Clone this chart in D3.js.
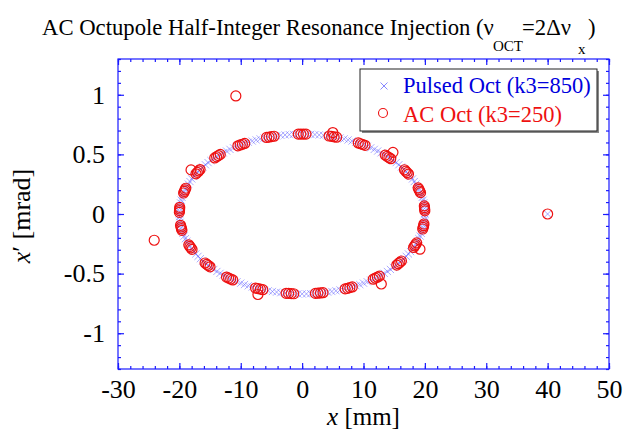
<!DOCTYPE html>
<html>
<head>
<meta charset="utf-8">
<script src="https://cdn.jsdelivr.net/npm/d3@7"></script>
<style>
  body { margin: 0; background: #fff; }
  text { font-family: "Liberation Serif", "Times New Roman", serif; }
</style>
</head>
<body>
<script>
// tick labels
var xTicks = [-30, -20, -10, 0, 10, 20, 30, 40, 50];
var yTicks = [-1, -0.5, 0, 0.5, 1];

// pulsed octupole (k3=850), blue crosses
var pulsedX = [
  20.00,19.99,19.95,19.89,19.81,19.70,19.56,19.41,19.23,19.02,18.79,18.54,18.27,17.98,17.66,17.32,16.96,16.58,16.18,15.76,15.32,14.86,14.39,13.89,13.38,12.86,12.31,11.76,11.18,10.60,10.00,9.39,8.77,8.13,7.49,6.84,6.18,5.51,4.84,4.16,3.47,2.78,2.09,1.40,0.70,
  0,-0.70,-1.40,-2.09,-2.78,-3.47,-4.16,-4.84,-5.51,-6.18,-6.84,-7.49,-8.13,-8.77,-9.39,-10.00,-10.60,-11.18,-11.76,-12.31,-12.86,-13.38,-13.89,-14.39,-14.86,-15.32,-15.76,-16.18,-16.58,-16.96,-17.32,-17.66,-17.98,-18.27,-18.54,-18.79,-19.02,-19.23,-19.41,-19.56,-19.70,-19.81,-19.89,-19.95,-19.99,
  -20.00,-19.99,-19.95,-19.89,-19.81,-19.70,-19.56,-19.41,-19.23,-19.02,-18.79,-18.54,-18.27,-17.98,-17.66,-17.32,-16.96,-16.58,-16.18,-15.76,-15.32,-14.86,-14.39,-13.89,-13.38,-12.86,-12.31,-11.76,-11.18,-10.60,-10.00,-9.39,-8.77,-8.13,-7.49,-6.84,-6.18,-5.51,-4.84,-4.16,-3.47,-2.78,-2.09,-1.40,-0.70,
  0,0.70,1.40,2.09,2.78,3.47,4.16,4.84,5.51,6.18,6.84,7.49,8.13,8.77,9.39,10.00,10.60,11.18,11.76,12.31,12.86,13.38,13.89,14.39,14.86,15.32,15.76,16.18,16.58,16.96,17.32,17.66,17.98,18.27,18.54,18.79,19.02,19.23,19.41,19.56,19.70,19.81,19.89,19.95,19.99,
  40.00
];
var pulsedY = [
  0,0.023,0.047,0.070,0.093,0.116,0.139,0.162,0.185,0.207,0.229,0.251,0.272,0.294,0.315,0.335,0.355,0.375,0.394,0.413,0.431,0.448,0.465,0.482,0.498,0.513,0.528,0.542,0.555,0.568,0.580,0.592,0.602,0.612,0.621,0.630,0.637,0.644,0.650,0.655,0.660,0.663,0.666,0.668,0.670,
  0.670,0.670,0.668,0.666,0.663,0.660,0.655,0.650,0.644,0.637,0.630,0.621,0.612,0.602,0.592,0.580,0.568,0.555,0.542,0.528,0.513,0.498,0.482,0.465,0.448,0.431,0.413,0.394,0.375,0.355,0.335,0.315,0.294,0.272,0.251,0.229,0.207,0.185,0.162,0.139,0.116,0.093,0.070,0.047,0.023,
  0,-0.023,-0.047,-0.070,-0.093,-0.116,-0.139,-0.162,-0.185,-0.207,-0.229,-0.251,-0.272,-0.294,-0.315,-0.335,-0.355,-0.375,-0.394,-0.413,-0.431,-0.448,-0.465,-0.482,-0.498,-0.513,-0.528,-0.542,-0.555,-0.568,-0.580,-0.592,-0.602,-0.612,-0.621,-0.630,-0.637,-0.644,-0.650,-0.655,-0.660,-0.663,-0.666,-0.668,-0.670,
  -0.670,-0.670,-0.668,-0.666,-0.663,-0.660,-0.655,-0.650,-0.644,-0.637,-0.630,-0.621,-0.612,-0.602,-0.592,-0.580,-0.568,-0.555,-0.542,-0.528,-0.513,-0.498,-0.482,-0.465,-0.448,-0.431,-0.413,-0.394,-0.375,-0.355,-0.335,-0.315,-0.294,-0.272,-0.251,-0.229,-0.207,-0.185,-0.162,-0.139,-0.116,-0.093,-0.070,-0.047,-0.023,
  0.000
];

// AC octupole (k3=250), red circles
var acX = [
  -0.63,-0.21,0.21,0.63,
  5.62,5.21,4.81,4.40,
  10.25,9.88,9.52,9.15,
  14.44,14.14,13.84,13.54,
  17.33,17.11,16.89,16.67,
  19.29,19.16,19.04,18.91,
  19.99,19.97,19.94,19.91,
  19.65,19.72,19.79,19.85,
  18.16,18.33,18.49,18.66,
  15.42,15.67,15.93,16.18,
  11.59,11.92,12.26,12.59,
  7.01,7.40,7.78,8.17,
  2.16,2.57,2.99,3.40,
  -2.61,-2.20,-1.78,-1.37,
  -7.59,-7.20,-6.80,-6.41,
  -12.32,-11.98,-11.64,-11.30,
  -15.81,-15.54,-15.28,-15.01,
  -18.46,-18.29,-18.11,-17.94,
  -19.81,-19.74,-19.66,-19.59,
  -19.94,-19.96,-19.98,-20.00,
  -18.95,-19.07,-19.19,-19.31,
  -16.63,-16.85,-17.07,-17.29,
  -13.34,-13.64,-13.94,-14.24,
  -9.36,-9.73,-10.09,-10.46,
  -4.57,-4.98,-5.38,-5.79,
  -18.1,5.0,14.8,19.2,12.9,-7.2,
  -10.8,-24.1,40.0
];
var acY = [
  0.670,0.670,0.670,0.670,
  0.644,0.647,0.651,0.654,
  0.576,0.583,0.589,0.596,
  0.464,0.474,0.484,0.494,
  0.335,0.347,0.359,0.371,
  0.179,0.192,0.206,0.219,
  0.026,0.040,0.054,0.068,
  -0.126,-0.112,-0.098,-0.084,
  -0.281,-0.268,-0.256,-0.243,
  -0.428,-0.417,-0.405,-0.394,
  -0.547,-0.538,-0.530,-0.521,
  -0.628,-0.623,-0.617,-0.612,
  -0.666,-0.664,-0.662,-0.660,
  -0.665,-0.666,-0.668,-0.669,
  -0.621,-0.626,-0.630,-0.635,
  -0.529,-0.537,-0.545,-0.553,
  -0.411,-0.422,-0.432,-0.443,
  -0.259,-0.272,-0.284,-0.297,
  -0.095,-0.109,-0.123,-0.137,
  0.056,0.042,0.028,0.014,
  0.216,0.203,0.189,0.176,
  0.373,0.361,0.349,0.337,
  0.500,0.490,0.480,0.470,
  0.592,0.585,0.579,0.572,
  0.652,0.649,0.645,0.642,
  0.37,0.683,0.517,-0.295,-0.587,-0.675,
  0.99,-0.22,0.00
];

var width = 623,
    height = 429;
var mLeft = 118, mRight = 609, mTop = 59, mBottom = 369;
var axisColor = "#1a1aff";

var x = d3.scaleLinear().domain([-30, 50]).range([mLeft, mRight]);
var y = d3.scaleLinear().domain([-1.3, 1.3]).range([mBottom, mTop]);

var svg = d3.select("body").append("svg")
    .attr("width", width)
    .attr("height", height);

// title (subscript pieces placed by hand)
var title = svg.append("text")
    .attr("y", 35)
    .attr("font-size", "22.7px")
    .attr("fill", "black");
title.append("tspan").attr("x", 42).text("AC Octupole Half-Integer Resonance Injection (\u03bd");
title.append("tspan").attr("x", 493).attr("y", 51).attr("font-size", "15px").text("OCT");
title.append("tspan").attr("x", 522).attr("y", 35).text("=2\u0394\u03bd");
title.append("tspan").attr("x", 578).attr("y", 54).attr("font-size", "15px").text("x");
title.append("tspan").attr("x", 588).attr("y", 35).text(")");

// frame
svg.append("rect")
    .attr("x", mLeft)
    .attr("y", mTop)
    .attr("width", mRight - mLeft)
    .attr("height", mBottom - mTop)
    .attr("fill", "none")
    .attr("stroke", axisColor)
    .attr("stroke-width", 1.2);

function styleAxis(g) {
  g.select(".domain").remove();
  g.selectAll(".tick line").attr("stroke", axisColor).attr("stroke-width", 1.2);
  g.selectAll(".tick text")
    .attr("fill", "black")
    .attr("font-size", "26px")
    .attr("font-family", "Liberation Serif, serif");
}

var xMinor = d3.range(-30, 50.1, 2);
var yMinor = d3.range(-13, 13.1, 1).map(function(d) { return d / 10; });

// minor ticks, all four sides
svg.append("g").attr("transform", "translate(0," + mBottom + ")")
    .call(d3.axisBottom(x).tickValues(xMinor).tickSize(-3).tickFormat("")).call(styleAxis);
svg.append("g").attr("transform", "translate(0," + mTop + ")")
    .call(d3.axisTop(x).tickValues(xMinor).tickSize(-3).tickFormat("")).call(styleAxis);
svg.append("g").attr("transform", "translate(" + mLeft + ",0)")
    .call(d3.axisLeft(y).tickValues(yMinor).tickSize(-3).tickFormat("")).call(styleAxis);
svg.append("g").attr("transform", "translate(" + mRight + ",0)")
    .call(d3.axisRight(y).tickValues(yMinor).tickSize(-3).tickFormat("")).call(styleAxis);

// major ticks + labels
svg.append("g").attr("transform", "translate(0," + mBottom + ")")
    .call(d3.axisBottom(x).tickValues(xTicks).tickSize(-6).tickPadding(11)
      .tickFormat(function(d) { return String(d); }))
    .call(styleAxis);
svg.append("g").attr("transform", "translate(0," + mTop + ")")
    .call(d3.axisTop(x).tickValues(xTicks).tickSize(-6).tickFormat("")).call(styleAxis);
svg.append("g").attr("transform", "translate(" + mLeft + ",0)")
    .call(d3.axisLeft(y).tickValues(yTicks).tickSize(-6).tickPadding(13)
      .tickFormat(function(d) { return String(d); }))
    .call(styleAxis);
svg.append("g").attr("transform", "translate(" + mRight + ",0)")
    .call(d3.axisRight(y).tickValues(yTicks).tickSize(-6).tickFormat("")).call(styleAxis);

// axis titles
var xl = svg.append("text")
    .attr("x", (mLeft + mRight) / 2)
    .attr("y", 425)
    .attr("text-anchor", "middle")
    .attr("font-size", "25px");
xl.append("tspan").attr("font-style", "italic").text("x");
xl.append("tspan").text(" [mm]");

var yl = svg.append("text")
    .attr("transform", "translate(30," + (y(0) + 2) + ") rotate(-90)")
    .attr("text-anchor", "middle")
    .attr("font-size", "26px");
yl.append("tspan").attr("font-style", "italic").text("x");
yl.append("tspan").text("\u2032 [mrad]");

// pulsed crosses
var pulsed = pulsedX.map(function(d, i) { return [d, pulsedY[i]]; });
svg.append("g").selectAll("path")
    .data(pulsed)
    .enter()
    .append("path")
    .attr("d", "M-3.6,-3.6L3.6,3.6M-3.6,3.6L3.6,-3.6")
    .attr("transform", function(d) { return "translate(" + x(d[0]) + "," + y(d[1]) + ")"; })
    .attr("stroke", "#5a5aff")
    .attr("stroke-opacity", 0.65)
    .attr("stroke-width", 0.8)
    .attr("fill", "none");

// AC circles
var ac = acX.map(function(d, i) { return [d, acY[i]]; });
svg.append("g").selectAll("circle")
    .data(ac)
    .enter()
    .append("circle")
    .attr("cx", function(d) { return x(d[0]); })
    .attr("cy", function(d) { return y(d[1]); })
    .attr("r", 5)
    .attr("fill", "none")
    .attr("stroke", "#ee1111")
    .attr("stroke-width", 1.2);

// legend
var lg = svg.append("g");
lg.append("rect")
    .attr("x", 362).attr("y", 71)
    .attr("width", 237).attr("height", 62)
    .attr("fill", "#888");
lg.append("rect")
    .attr("x", 360).attr("y", 69)
    .attr("width", 237).attr("height", 62)
    .attr("fill", "white")
    .attr("stroke", "#222")
    .attr("stroke-width", 1);
lg.append("path")
    .attr("d", "M-3.5,-3.5L3.5,3.5M-3.5,3.5L3.5,-3.5")
    .attr("transform", "translate(384,86)")
    .attr("stroke", "#8888ff")
    .attr("stroke-width", 1);
lg.append("circle")
    .attr("cx", 383).attr("cy", 113).attr("r", 4.5)
    .attr("fill", "none").attr("stroke", "#ee1111").attr("stroke-width", 1.1);
lg.append("text")
    .attr("x", 403).attr("y", 93)
    .attr("font-size", "22.5px")
    .attr("fill", "#0000dd")
    .text("Pulsed Oct (k3=850)");
lg.append("text")
    .attr("x", 403).attr("y", 122)
    .attr("font-size", "22.5px")
    .attr("fill", "#ee1111")
    .text("AC Oct (k3=250)");
</script>
</body>
</html>
